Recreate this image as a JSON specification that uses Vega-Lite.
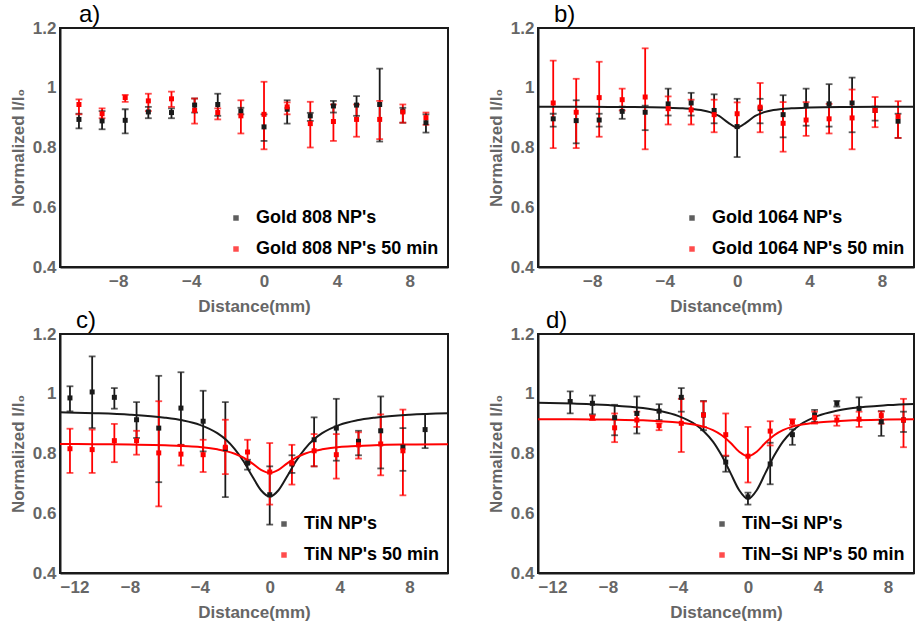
{
  "$schema": "https://vega.github.io/schema/vega-lite/v6.json",
  "padding": {"left": 8, "top": 2, "right": 0, "bottom": 0},
  "background": "white",
  "columns": 2,
  "bounds": "flush",
  "spacing": {"row": 67, "column": 90},
  "datasets": {
    "pts": [
      {"p":"a","s":"Gold 808 NP's","x":-10.16,"y":0.894,"lo":0.864,"hi":0.913},
      {"p":"a","s":"Gold 808 NP's","x":-8.89,"y":0.889,"lo":0.861,"hi":0.922},
      {"p":"a","s":"Gold 808 NP's","x":-7.62,"y":0.891,"lo":0.847,"hi":0.928},
      {"p":"a","s":"Gold 808 NP's","x":-6.35,"y":0.919,"lo":0.898,"hi":0.936},
      {"p":"a","s":"Gold 808 NP's","x":-5.08,"y":0.917,"lo":0.898,"hi":0.931},
      {"p":"a","s":"Gold 808 NP's","x":-3.81,"y":0.942,"lo":0.917,"hi":0.964},
      {"p":"a","s":"Gold 808 NP's","x":-2.54,"y":0.944,"lo":0.906,"hi":0.98},
      {"p":"a","s":"Gold 808 NP's","x":-1.27,"y":0.922,"lo":0.911,"hi":0.933},
      {"p":"a","s":"Gold 808 NP's","x":0,"y":0.869,"lo":0.822,"hi":0.911},
      {"p":"a","s":"Gold 808 NP's","x":1.27,"y":0.928,"lo":0.88,"hi":0.958},
      {"p":"a","s":"Gold 808 NP's","x":2.54,"y":0.906,"lo":0.889,"hi":0.916},
      {"p":"a","s":"Gold 808 NP's","x":3.81,"y":0.939,"lo":0.917,"hi":0.956},
      {"p":"a","s":"Gold 808 NP's","x":5.08,"y":0.942,"lo":0.906,"hi":0.972},
      {"p":"a","s":"Gold 808 NP's","x":6.35,"y":0.944,"lo":0.82,"hi":1.064},
      {"p":"a","s":"Gold 808 NP's","x":7.62,"y":0.922,"lo":0.883,"hi":0.933},
      {"p":"a","s":"Gold 808 NP's","x":8.89,"y":0.883,"lo":0.85,"hi":0.911},
      {"p":"a","s":"Gold 808 NP's 50 min","x":-10.16,"y":0.944,"lo":0.911,"hi":0.961},
      {"p":"a","s":"Gold 808 NP's 50 min","x":-8.89,"y":0.913,"lo":0.898,"hi":0.931},
      {"p":"a","s":"Gold 808 NP's 50 min","x":-7.62,"y":0.967,"lo":0.953,"hi":0.976},
      {"p":"a","s":"Gold 808 NP's 50 min","x":-6.35,"y":0.956,"lo":0.922,"hi":0.98},
      {"p":"a","s":"Gold 808 NP's 50 min","x":-5.08,"y":0.963,"lo":0.936,"hi":0.987},
      {"p":"a","s":"Gold 808 NP's 50 min","x":-3.81,"y":0.924,"lo":0.88,"hi":0.964},
      {"p":"a","s":"Gold 808 NP's 50 min","x":-2.54,"y":0.917,"lo":0.894,"hi":0.931},
      {"p":"a","s":"Gold 808 NP's 50 min","x":-1.27,"y":0.906,"lo":0.847,"hi":0.958},
      {"p":"a","s":"Gold 808 NP's 50 min","x":0,"y":0.911,"lo":0.794,"hi":1.02},
      {"p":"a","s":"Gold 808 NP's 50 min","x":1.27,"y":0.936,"lo":0.911,"hi":0.951},
      {"p":"a","s":"Gold 808 NP's 50 min","x":2.54,"y":0.88,"lo":0.8,"hi":0.953},
      {"p":"a","s":"Gold 808 NP's 50 min","x":3.81,"y":0.887,"lo":0.822,"hi":0.944},
      {"p":"a","s":"Gold 808 NP's 50 min","x":5.08,"y":0.894,"lo":0.836,"hi":0.944},
      {"p":"a","s":"Gold 808 NP's 50 min","x":6.35,"y":0.894,"lo":0.828,"hi":0.956},
      {"p":"a","s":"Gold 808 NP's 50 min","x":7.62,"y":0.919,"lo":0.883,"hi":0.944},
      {"p":"a","s":"Gold 808 NP's 50 min","x":8.89,"y":0.9,"lo":0.876,"hi":0.917},

      {"p":"b","s":"Gold 1064 NP's","x":-10.16,"y":0.896,"lo":0.87,"hi":0.913},
      {"p":"b","s":"Gold 1064 NP's","x":-8.89,"y":0.89,"lo":0.814,"hi":0.958},
      {"p":"b","s":"Gold 1064 NP's","x":-7.62,"y":0.892,"lo":0.87,"hi":0.913},
      {"p":"b","s":"Gold 1064 NP's","x":-6.35,"y":0.921,"lo":0.896,"hi":0.937},
      {"p":"b","s":"Gold 1064 NP's","x":-5.08,"y":0.918,"lo":0.858,"hi":0.94},
      {"p":"b","s":"Gold 1064 NP's","x":-3.81,"y":0.946,"lo":0.907,"hi":0.997},
      {"p":"b","s":"Gold 1064 NP's","x":-2.54,"y":0.949,"lo":0.907,"hi":0.983},
      {"p":"b","s":"Gold 1064 NP's","x":-1.27,"y":0.924,"lo":0.881,"hi":0.978},
      {"p":"b","s":"Gold 1064 NP's","x":0,"y":0.87,"lo":0.768,"hi":0.963},
      {"p":"b","s":"Gold 1064 NP's","x":1.27,"y":0.93,"lo":0.881,"hi":0.963},
      {"p":"b","s":"Gold 1064 NP's","x":2.54,"y":0.91,"lo":0.834,"hi":0.975},
      {"p":"b","s":"Gold 1064 NP's","x":3.81,"y":0.941,"lo":0.873,"hi":0.997},
      {"p":"b","s":"Gold 1064 NP's","x":5.08,"y":0.946,"lo":0.87,"hi":1.012},
      {"p":"b","s":"Gold 1064 NP's","x":6.35,"y":0.949,"lo":0.851,"hi":1.034},
      {"p":"b","s":"Gold 1064 NP's","x":7.62,"y":0.924,"lo":0.89,"hi":0.937},
      {"p":"b","s":"Gold 1064 NP's","x":8.89,"y":0.888,"lo":0.832,"hi":0.913},
      {"p":"b","s":"Gold 1064 NP's 50 min","x":-10.16,"y":0.949,"lo":0.798,"hi":1.091},
      {"p":"b","s":"Gold 1064 NP's 50 min","x":-8.89,"y":0.918,"lo":0.798,"hi":1.03},
      {"p":"b","s":"Gold 1064 NP's 50 min","x":-7.62,"y":0.967,"lo":0.836,"hi":1.087},
      {"p":"b","s":"Gold 1064 NP's 50 min","x":-6.35,"y":0.96,"lo":0.924,"hi":0.997},
      {"p":"b","s":"Gold 1064 NP's 50 min","x":-5.08,"y":0.969,"lo":0.794,"hi":1.132},
      {"p":"b","s":"Gold 1064 NP's 50 min","x":-3.81,"y":0.93,"lo":0.877,"hi":0.971},
      {"p":"b","s":"Gold 1064 NP's 50 min","x":-2.54,"y":0.926,"lo":0.877,"hi":0.96},
      {"p":"b","s":"Gold 1064 NP's 50 min","x":-1.27,"y":0.91,"lo":0.851,"hi":0.96},
      {"p":"b","s":"Gold 1064 NP's 50 min","x":0,"y":0.913,"lo":0.87,"hi":0.951},
      {"p":"b","s":"Gold 1064 NP's 50 min","x":1.27,"y":0.935,"lo":0.851,"hi":1.016},
      {"p":"b","s":"Gold 1064 NP's 50 min","x":2.54,"y":0.881,"lo":0.786,"hi":0.952},
      {"p":"b","s":"Gold 1064 NP's 50 min","x":3.81,"y":0.892,"lo":0.839,"hi":0.952},
      {"p":"b","s":"Gold 1064 NP's 50 min","x":5.08,"y":0.896,"lo":0.847,"hi":0.946},
      {"p":"b","s":"Gold 1064 NP's 50 min","x":6.35,"y":0.899,"lo":0.794,"hi":0.994},
      {"p":"b","s":"Gold 1064 NP's 50 min","x":7.62,"y":0.924,"lo":0.868,"hi":0.969},
      {"p":"b","s":"Gold 1064 NP's 50 min","x":8.89,"y":0.904,"lo":0.832,"hi":0.955},

      {"p":"c","s":"TiN NP's","x":-11.43,"y":0.986,"lo":0.941,"hi":1.025},
      {"p":"c","s":"TiN NP's","x":-10.16,"y":1.006,"lo":0.885,"hi":1.125},
      {"p":"c","s":"TiN NP's","x":-8.89,"y":0.988,"lo":0.95,"hi":1.019},
      {"p":"c","s":"TiN NP's","x":-7.62,"y":0.913,"lo":0.852,"hi":0.972},
      {"p":"c","s":"TiN NP's","x":-6.35,"y":0.885,"lo":0.704,"hi":1.06},
      {"p":"c","s":"TiN NP's","x":-5.08,"y":0.952,"lo":0.829,"hi":1.072},
      {"p":"c","s":"TiN NP's","x":-3.81,"y":0.908,"lo":0.807,"hi":1.01},
      {"p":"c","s":"TiN NP's","x":-2.54,"y":0.816,"lo":0.654,"hi":0.972},
      {"p":"c","s":"TiN NP's","x":-1.27,"y":0.768,"lo":0.746,"hi":0.779},
      {"p":"c","s":"TiN NP's","x":0,"y":0.662,"lo":0.562,"hi":0.757},
      {"p":"c","s":"TiN NP's","x":1.27,"y":0.765,"lo":0.735,"hi":0.794},
      {"p":"c","s":"TiN NP's","x":2.54,"y":0.846,"lo":0.757,"hi":0.921},
      {"p":"c","s":"TiN NP's","x":3.81,"y":0.885,"lo":0.776,"hi":0.983},
      {"p":"c","s":"TiN NP's","x":5.08,"y":0.841,"lo":0.794,"hi":0.876},
      {"p":"c","s":"TiN NP's","x":6.35,"y":0.876,"lo":0.75,"hi":0.991},
      {"p":"c","s":"TiN NP's","x":7.62,"y":0.821,"lo":0.742,"hi":0.885},
      {"p":"c","s":"TiN NP's","x":8.89,"y":0.88,"lo":0.818,"hi":0.932},
      {"p":"c","s":"TiN NP's 50 min","x":-11.43,"y":0.816,"lo":0.735,"hi":0.883},
      {"p":"c","s":"TiN NP's 50 min","x":-10.16,"y":0.813,"lo":0.735,"hi":0.88},
      {"p":"c","s":"TiN NP's 50 min","x":-8.89,"y":0.843,"lo":0.771,"hi":0.899},
      {"p":"c","s":"TiN NP's 50 min","x":-7.62,"y":0.843,"lo":0.796,"hi":0.876},
      {"p":"c","s":"TiN NP's 50 min","x":-6.35,"y":0.802,"lo":0.623,"hi":0.975},
      {"p":"c","s":"TiN NP's 50 min","x":-5.08,"y":0.798,"lo":0.76,"hi":0.829},
      {"p":"c","s":"TiN NP's 50 min","x":-3.81,"y":0.796,"lo":0.738,"hi":0.846},
      {"p":"c","s":"TiN NP's 50 min","x":-2.54,"y":0.821,"lo":0.731,"hi":0.913},
      {"p":"c","s":"TiN NP's 50 min","x":-1.27,"y":0.805,"lo":0.765,"hi":0.846},
      {"p":"c","s":"TiN NP's 50 min","x":0,"y":0.738,"lo":0.629,"hi":0.835},
      {"p":"c","s":"TiN NP's 50 min","x":1.27,"y":0.768,"lo":0.696,"hi":0.829},
      {"p":"c","s":"TiN NP's 50 min","x":2.54,"y":0.809,"lo":0.757,"hi":0.865},
      {"p":"c","s":"TiN NP's 50 min","x":3.81,"y":0.796,"lo":0.716,"hi":0.865},
      {"p":"c","s":"TiN NP's 50 min","x":5.08,"y":0.829,"lo":0.783,"hi":0.871},
      {"p":"c","s":"TiN NP's 50 min","x":6.35,"y":0.832,"lo":0.727,"hi":0.931},
      {"p":"c","s":"TiN NP's 50 min","x":7.62,"y":0.809,"lo":0.66,"hi":0.947},

      {"p":"d","s":"TiN−Si NP's","x":-10.16,"y":0.974,"lo":0.934,"hi":1.008},
      {"p":"d","s":"TiN−Si NP's","x":-8.89,"y":0.968,"lo":0.931,"hi":0.994},
      {"p":"d","s":"TiN−Si NP's","x":-7.62,"y":0.92,"lo":0.861,"hi":0.963},
      {"p":"d","s":"TiN−Si NP's","x":-6.35,"y":0.934,"lo":0.867,"hi":0.991},
      {"p":"d","s":"TiN−Si NP's","x":-5.08,"y":0.942,"lo":0.912,"hi":0.965},
      {"p":"d","s":"TiN−Si NP's","x":-3.81,"y":0.988,"lo":0.94,"hi":1.019},
      {"p":"d","s":"TiN−Si NP's","x":-2.54,"y":0.929,"lo":0.878,"hi":0.976},
      {"p":"d","s":"TiN−Si NP's","x":-1.27,"y":0.771,"lo":0.739,"hi":0.791},
      {"p":"d","s":"TiN−Si NP's","x":0,"y":0.655,"lo":0.629,"hi":0.669},
      {"p":"d","s":"TiN−Si NP's","x":1.27,"y":0.765,"lo":0.697,"hi":0.836},
      {"p":"d","s":"TiN−Si NP's","x":2.54,"y":0.863,"lo":0.829,"hi":0.881},
      {"p":"d","s":"TiN−Si NP's","x":3.81,"y":0.929,"lo":0.906,"hi":0.946},
      {"p":"d","s":"TiN−Si NP's","x":5.08,"y":0.968,"lo":0.957,"hi":0.976},
      {"p":"d","s":"TiN−Si NP's","x":6.35,"y":0.951,"lo":0.912,"hi":0.988},
      {"p":"d","s":"TiN−Si NP's","x":7.62,"y":0.906,"lo":0.859,"hi":0.942},
      {"p":"d","s":"TiN−Si NP's","x":8.89,"y":0.912,"lo":0.872,"hi":0.94},
      {"p":"d","s":"TiN−Si NP's 50 min","x":-8.89,"y":0.92,"lo":0.912,"hi":0.927},
      {"p":"d","s":"TiN−Si NP's 50 min","x":-7.62,"y":0.886,"lo":0.838,"hi":0.934},
      {"p":"d","s":"TiN−Si NP's 50 min","x":-6.35,"y":0.912,"lo":0.889,"hi":0.94},
      {"p":"d","s":"TiN−Si NP's 50 min","x":-5.08,"y":0.893,"lo":0.878,"hi":0.901},
      {"p":"d","s":"TiN−Si NP's 50 min","x":-3.81,"y":0.901,"lo":0.805,"hi":0.983},
      {"p":"d","s":"TiN−Si NP's 50 min","x":-2.54,"y":0.929,"lo":0.889,"hi":0.974},
      {"p":"d","s":"TiN−Si NP's 50 min","x":-1.27,"y":0.863,"lo":0.793,"hi":0.934},
      {"p":"d","s":"TiN−Si NP's 50 min","x":0,"y":0.791,"lo":0.703,"hi":0.889},
      {"p":"d","s":"TiN−Si NP's 50 min","x":1.27,"y":0.875,"lo":0.827,"hi":0.908},
      {"p":"d","s":"TiN−Si NP's 50 min","x":2.54,"y":0.906,"lo":0.895,"hi":0.915},
      {"p":"d","s":"TiN−Si NP's 50 min","x":3.81,"y":0.92,"lo":0.9,"hi":0.94},
      {"p":"d","s":"TiN−Si NP's 50 min","x":5.08,"y":0.912,"lo":0.893,"hi":0.927},
      {"p":"d","s":"TiN−Si NP's 50 min","x":6.35,"y":0.915,"lo":0.889,"hi":0.94},
      {"p":"d","s":"TiN−Si NP's 50 min","x":7.62,"y":0.927,"lo":0.9,"hi":0.94},
      {"p":"d","s":"TiN−Si NP's 50 min","x":8.89,"y":0.912,"lo":0.821,"hi":0.983}
    ],
    "fits": [
      {"p":"b","s":"Gold 1064 NP's","x":-11,"y":0.9365},
      {"p":"b","s":"Gold 1064 NP's","x":-8,"y":0.9361},
      {"p":"b","s":"Gold 1064 NP's","x":-6,"y":0.9355},
      {"p":"b","s":"Gold 1064 NP's","x":-4,"y":0.9336},
      {"p":"b","s":"Gold 1064 NP's","x":-3,"y":0.9312},
      {"p":"b","s":"Gold 1064 NP's","x":-2,"y":0.9252},
      {"p":"b","s":"Gold 1064 NP's","x":-1.5,"y":0.9185},
      {"p":"b","s":"Gold 1064 NP's","x":-1,"y":0.9057},
      {"p":"b","s":"Gold 1064 NP's","x":-0.5,"y":0.8835},
      {"p":"b","s":"Gold 1064 NP's","x":0,"y":0.867},
      {"p":"b","s":"Gold 1064 NP's","x":0.5,"y":0.8835},
      {"p":"b","s":"Gold 1064 NP's","x":1,"y":0.9057},
      {"p":"b","s":"Gold 1064 NP's","x":1.5,"y":0.9185},
      {"p":"b","s":"Gold 1064 NP's","x":2,"y":0.9252},
      {"p":"b","s":"Gold 1064 NP's","x":3,"y":0.9312},
      {"p":"b","s":"Gold 1064 NP's","x":4,"y":0.9336},
      {"p":"b","s":"Gold 1064 NP's","x":6,"y":0.9355},
      {"p":"b","s":"Gold 1064 NP's","x":8,"y":0.9361},
      {"p":"b","s":"Gold 1064 NP's","x":10,"y":0.9365},

      {"p":"c","s":"TiN NP's","x":-12,"y":0.938},
      {"p":"c","s":"TiN NP's","x":-10,"y":0.935},
      {"p":"c","s":"TiN NP's","x":-8,"y":0.930},
      {"p":"c","s":"TiN NP's","x":-6,"y":0.920},
      {"p":"c","s":"TiN NP's","x":-5,"y":0.911},
      {"p":"c","s":"TiN NP's","x":-4,"y":0.896},
      {"p":"c","s":"TiN NP's","x":-3,"y":0.868},
      {"p":"c","s":"TiN NP's","x":-2.5,"y":0.846},
      {"p":"c","s":"TiN NP's","x":-2,"y":0.815},
      {"p":"c","s":"TiN NP's","x":-1.5,"y":0.774},
      {"p":"c","s":"TiN NP's","x":-1,"y":0.724},
      {"p":"c","s":"TiN NP's","x":-0.5,"y":0.677},
      {"p":"c","s":"TiN NP's","x":0,"y":0.656},
      {"p":"c","s":"TiN NP's","x":0.5,"y":0.677},
      {"p":"c","s":"TiN NP's","x":1,"y":0.724},
      {"p":"c","s":"TiN NP's","x":1.5,"y":0.774},
      {"p":"c","s":"TiN NP's","x":2,"y":0.815},
      {"p":"c","s":"TiN NP's","x":2.5,"y":0.846},
      {"p":"c","s":"TiN NP's","x":3,"y":0.868},
      {"p":"c","s":"TiN NP's","x":4,"y":0.896},
      {"p":"c","s":"TiN NP's","x":5,"y":0.911},
      {"p":"c","s":"TiN NP's","x":6,"y":0.920},
      {"p":"c","s":"TiN NP's","x":8,"y":0.930},
      {"p":"c","s":"TiN NP's","x":10.2,"y":0.935},
      {"p":"c","s":"TiN NP's 50 min","x":-12,"y":0.832},
      {"p":"c","s":"TiN NP's 50 min","x":-10,"y":0.831},
      {"p":"c","s":"TiN NP's 50 min","x":-8,"y":0.830},
      {"p":"c","s":"TiN NP's 50 min","x":-6,"y":0.828},
      {"p":"c","s":"TiN NP's 50 min","x":-5,"y":0.825},
      {"p":"c","s":"TiN NP's 50 min","x":-4,"y":0.822},
      {"p":"c","s":"TiN NP's 50 min","x":-3,"y":0.814},
      {"p":"c","s":"TiN NP's 50 min","x":-2.5,"y":0.808},
      {"p":"c","s":"TiN NP's 50 min","x":-2,"y":0.799},
      {"p":"c","s":"TiN NP's 50 min","x":-1.5,"y":0.786},
      {"p":"c","s":"TiN NP's 50 min","x":-1,"y":0.767},
      {"p":"c","s":"TiN NP's 50 min","x":-0.5,"y":0.745},
      {"p":"c","s":"TiN NP's 50 min","x":0,"y":0.735},
      {"p":"c","s":"TiN NP's 50 min","x":0.5,"y":0.745},
      {"p":"c","s":"TiN NP's 50 min","x":1,"y":0.767},
      {"p":"c","s":"TiN NP's 50 min","x":1.5,"y":0.786},
      {"p":"c","s":"TiN NP's 50 min","x":2,"y":0.799},
      {"p":"c","s":"TiN NP's 50 min","x":2.5,"y":0.808},
      {"p":"c","s":"TiN NP's 50 min","x":3,"y":0.814},
      {"p":"c","s":"TiN NP's 50 min","x":4,"y":0.822},
      {"p":"c","s":"TiN NP's 50 min","x":5,"y":0.825},
      {"p":"c","s":"TiN NP's 50 min","x":6,"y":0.828},
      {"p":"c","s":"TiN NP's 50 min","x":8,"y":0.830},
      {"p":"c","s":"TiN NP's 50 min","x":10.2,"y":0.831},

      {"p":"d","s":"TiN−Si NP's","x":-12,"y":0.970},
      {"p":"d","s":"TiN−Si NP's","x":-10,"y":0.967},
      {"p":"d","s":"TiN−Si NP's","x":-8,"y":0.962},
      {"p":"d","s":"TiN−Si NP's","x":-6,"y":0.952},
      {"p":"d","s":"TiN−Si NP's","x":-5,"y":0.942},
      {"p":"d","s":"TiN−Si NP's","x":-4,"y":0.926},
      {"p":"d","s":"TiN−Si NP's","x":-3,"y":0.897},
      {"p":"d","s":"TiN−Si NP's","x":-2.5,"y":0.873},
      {"p":"d","s":"TiN−Si NP's","x":-2,"y":0.840},
      {"p":"d","s":"TiN−Si NP's","x":-1.5,"y":0.793},
      {"p":"d","s":"TiN−Si NP's","x":-1,"y":0.735},
      {"p":"d","s":"TiN−Si NP's","x":-0.5,"y":0.677},
      {"p":"d","s":"TiN−Si NP's","x":0,"y":0.648},
      {"p":"d","s":"TiN−Si NP's","x":0.5,"y":0.677},
      {"p":"d","s":"TiN−Si NP's","x":1,"y":0.735},
      {"p":"d","s":"TiN−Si NP's","x":1.5,"y":0.793},
      {"p":"d","s":"TiN−Si NP's","x":2,"y":0.840},
      {"p":"d","s":"TiN−Si NP's","x":2.5,"y":0.873},
      {"p":"d","s":"TiN−Si NP's","x":3,"y":0.897},
      {"p":"d","s":"TiN−Si NP's","x":4,"y":0.926},
      {"p":"d","s":"TiN−Si NP's","x":5,"y":0.942},
      {"p":"d","s":"TiN−Si NP's","x":6,"y":0.952},
      {"p":"d","s":"TiN−Si NP's","x":8,"y":0.962},
      {"p":"d","s":"TiN−Si NP's","x":10,"y":0.967},
      {"p":"d","s":"TiN−Si NP's 50 min","x":-12,"y":0.915},
      {"p":"d","s":"TiN−Si NP's 50 min","x":-10,"y":0.915},
      {"p":"d","s":"TiN−Si NP's 50 min","x":-8,"y":0.9135},
      {"p":"d","s":"TiN−Si NP's 50 min","x":-6,"y":0.911},
      {"p":"d","s":"TiN−Si NP's 50 min","x":-5,"y":0.908},
      {"p":"d","s":"TiN−Si NP's 50 min","x":-4,"y":0.904},
      {"p":"d","s":"TiN−Si NP's 50 min","x":-3,"y":0.896},
      {"p":"d","s":"TiN−Si NP's 50 min","x":-2.5,"y":0.889},
      {"p":"d","s":"TiN−Si NP's 50 min","x":-2,"y":0.878},
      {"p":"d","s":"TiN−Si NP's 50 min","x":-1.5,"y":0.861},
      {"p":"d","s":"TiN−Si NP's 50 min","x":-1,"y":0.836},
      {"p":"d","s":"TiN−Si NP's 50 min","x":-0.5,"y":0.806},
      {"p":"d","s":"TiN−Si NP's 50 min","x":0,"y":0.791},
      {"p":"d","s":"TiN−Si NP's 50 min","x":0.5,"y":0.806},
      {"p":"d","s":"TiN−Si NP's 50 min","x":1,"y":0.836},
      {"p":"d","s":"TiN−Si NP's 50 min","x":1.5,"y":0.861},
      {"p":"d","s":"TiN−Si NP's 50 min","x":2,"y":0.878},
      {"p":"d","s":"TiN−Si NP's 50 min","x":2.5,"y":0.889},
      {"p":"d","s":"TiN−Si NP's 50 min","x":3,"y":0.896},
      {"p":"d","s":"TiN−Si NP's 50 min","x":4,"y":0.904},
      {"p":"d","s":"TiN−Si NP's 50 min","x":5,"y":0.908},
      {"p":"d","s":"TiN−Si NP's 50 min","x":6,"y":0.911},
      {"p":"d","s":"TiN−Si NP's 50 min","x":8,"y":0.9135},
      {"p":"d","s":"TiN−Si NP's 50 min","x":10,"y":0.915}
    ]
  },
  "concat": [
    {
      "width": 388, "height": 239,
      "title": {"text": "a)", "dx": 19},
      "layer": [
        {
          "data": {"name": "pts"},
          "transform": [{"filter": "datum.p == 'a'"}],
          "mark": {"type": "rule", "strokeWidth": 1.8},
          "encoding": {
            "x": {"field": "x", "type": "quantitative", "scale": {"domain": [-11.2, 10.1], "nice": false, "zero": false}, "axis": {"values": [-8, -4, 0, 4, 8], "title": "Distance(mm)"}},
            "y": {"field": "lo", "type": "quantitative", "scale": {"domain": [0.4, 1.2], "nice": false, "zero": false}, "axis": {"values": [0.4, 0.6, 0.8, 1, 1.2], "title": "Normalized  I/I₀", "labelExpr": "datum.value == 1 ? '1' : format(datum.value, '.1f')"}},
            "y2": {"field": "hi"},
            "color": {"field": "s", "scale": {"domain": ["Gold 808 NP's", "Gold 808 NP's 50 min"], "range": ["#1a1a1a", "#ff0000"]}, "legend": {"title": null, "orient": "bottom-right", "offset": 9, "symbolType": "square", "symbolSize": 30, "symbolStrokeWidth": 0, "labelFontSize": 18, "labelFontWeight": "bold", "labelColor": "#000", "labelLimit": 320, "labelOffset": 11, "rowPadding": 13}}
          }
        },
        {
          "data": {"name": "pts"},
          "transform": [{"filter": "datum.p == 'a'"}, {"fold": ["lo", "hi"], "as": ["end", "v"]}],
          "mark": {"type": "tick", "orient": "horizontal", "size": 5, "thickness": 0.01, "filled": false, "strokeWidth": 1.8},
          "encoding": {
            "x": {"field": "x", "type": "quantitative"},
            "y": {"field": "v", "type": "quantitative"},
            "color": {"field": "s"}
          }
        },
        {
          "data": {"name": "pts"},
          "transform": [{"filter": "datum.p == 'a'"}],
          "mark": {"type": "square", "size": 25, "opacity": 1},
          "encoding": {
            "x": {"field": "x", "type": "quantitative"},
            "y": {"field": "y", "type": "quantitative"},
            "color": {"field": "s"}
          }
        }
      ]
    },
    {
      "width": 376, "height": 239,
      "title": {"text": "b)", "dx": 16},
      "layer": [
        {
          "data": {"name": "pts"},
          "transform": [{"filter": "datum.p == 'b'"}],
          "mark": {"type": "rule", "strokeWidth": 1.8},
          "encoding": {
            "x": {"field": "x", "type": "quantitative", "scale": {"domain": [-11.0, 9.77], "nice": false, "zero": false}, "axis": {"values": [-8, -4, 0, 4, 8], "title": "Distance(mm)"}},
            "y": {"field": "lo", "type": "quantitative", "scale": {"domain": [0.4, 1.2], "nice": false, "zero": false}, "axis": {"values": [0.4, 0.6, 0.8, 1, 1.2], "title": "Normalized  I/I₀", "labelExpr": "datum.value == 1 ? '1' : format(datum.value, '.1f')"}},
            "y2": {"field": "hi"},
            "color": {"field": "s", "scale": {"domain": ["Gold 1064 NP's", "Gold 1064 NP's 50 min"], "range": ["#1a1a1a", "#ff0000"]}, "legend": {"title": null, "orient": "bottom-right", "offset": 9, "symbolType": "square", "symbolSize": 30, "symbolStrokeWidth": 0, "labelFontSize": 18, "labelFontWeight": "bold", "labelColor": "#000", "labelLimit": 320, "labelOffset": 11, "rowPadding": 13}}
          }
        },
        {
          "data": {"name": "pts"},
          "transform": [{"filter": "datum.p == 'b'"}, {"fold": ["lo", "hi"], "as": ["end", "v"]}],
          "mark": {"type": "tick", "orient": "horizontal", "size": 5, "thickness": 0.01, "filled": false, "strokeWidth": 1.8},
          "encoding": {
            "x": {"field": "x", "type": "quantitative"},
            "y": {"field": "v", "type": "quantitative"},
            "color": {"field": "s"}
          }
        },
        {
          "data": {"name": "fits"},
          "transform": [{"filter": "datum.p == 'b'"}],
          "mark": {"type": "line", "interpolate": "monotone", "strokeWidth": 2, "clip": true},
          "encoding": {
            "x": {"field": "x", "type": "quantitative"},
            "y": {"field": "y", "type": "quantitative"},
            "color": {"field": "s"}
          }
        },
        {
          "data": {"name": "pts"},
          "transform": [{"filter": "datum.p == 'b'"}],
          "mark": {"type": "square", "size": 25, "opacity": 1},
          "encoding": {
            "x": {"field": "x", "type": "quantitative"},
            "y": {"field": "y", "type": "quantitative"},
            "color": {"field": "s"}
          }
        }
      ]
    },
    {
      "width": 388, "height": 239,
      "title": {"text": "c)", "dx": 16},
      "layer": [
        {
          "data": {"name": "pts"},
          "transform": [{"filter": "datum.p == 'c'"}],
          "mark": {"type": "rule", "strokeWidth": 1.8},
          "encoding": {
            "x": {"field": "x", "type": "quantitative", "scale": {"domain": [-12, 10.2], "nice": false, "zero": false}, "axis": {"values": [-12, -8, -4, 0, 4, 8], "title": "Distance(mm)"}},
            "y": {"field": "lo", "type": "quantitative", "scale": {"domain": [0.4, 1.2], "nice": false, "zero": false}, "axis": {"values": [0.4, 0.6, 0.8, 1, 1.2], "title": "Normalized  I/I₀", "labelExpr": "datum.value == 1 ? '1' : format(datum.value, '.1f')"}},
            "y2": {"field": "hi"},
            "color": {"field": "s", "scale": {"domain": ["TiN NP's", "TiN NP's 50 min"], "range": ["#1a1a1a", "#ff0000"]}, "legend": {"title": null, "orient": "bottom-right", "offset": 9, "symbolType": "square", "symbolSize": 30, "symbolStrokeWidth": 0, "labelFontSize": 18, "labelFontWeight": "bold", "labelColor": "#000", "labelLimit": 320, "labelOffset": 11, "rowPadding": 13}}
          }
        },
        {
          "data": {"name": "pts"},
          "transform": [{"filter": "datum.p == 'c'"}, {"fold": ["lo", "hi"], "as": ["end", "v"]}],
          "mark": {"type": "tick", "orient": "horizontal", "size": 5, "thickness": 0.01, "filled": false, "strokeWidth": 1.8},
          "encoding": {
            "x": {"field": "x", "type": "quantitative"},
            "y": {"field": "v", "type": "quantitative"},
            "color": {"field": "s"}
          }
        },
        {
          "data": {"name": "fits"},
          "transform": [{"filter": "datum.p == 'c'"}],
          "mark": {"type": "line", "interpolate": "monotone", "strokeWidth": 2, "clip": true},
          "encoding": {
            "x": {"field": "x", "type": "quantitative"},
            "y": {"field": "y", "type": "quantitative"},
            "color": {"field": "s"}
          }
        },
        {
          "data": {"name": "pts"},
          "transform": [{"filter": "datum.p == 'c'"}],
          "mark": {"type": "square", "size": 25, "opacity": 1},
          "encoding": {
            "x": {"field": "x", "type": "quantitative"},
            "y": {"field": "y", "type": "quantitative"},
            "color": {"field": "s"}
          }
        }
      ]
    },
    {
      "width": 376, "height": 239,
      "title": {"text": "d)", "dx": 8},
      "layer": [
        {
          "data": {"name": "pts"},
          "transform": [{"filter": "datum.p == 'd'"}],
          "mark": {"type": "rule", "strokeWidth": 1.8},
          "encoding": {
            "x": {"field": "x", "type": "quantitative", "scale": {"domain": [-12, 9.49], "nice": false, "zero": false}, "axis": {"values": [-12, -8, -4, 0, 4, 8], "title": "Distance(mm)"}},
            "y": {"field": "lo", "type": "quantitative", "scale": {"domain": [0.4, 1.2], "nice": false, "zero": false}, "axis": {"values": [0.4, 0.6, 0.8, 1, 1.2], "title": "Normalized  I/I₀", "labelExpr": "datum.value == 1 ? '1' : format(datum.value, '.1f')"}},
            "y2": {"field": "hi"},
            "color": {"field": "s", "scale": {"domain": ["TiN−Si NP's", "TiN−Si NP's 50 min"], "range": ["#1a1a1a", "#ff0000"]}, "legend": {"title": null, "orient": "bottom-right", "offset": 9, "symbolType": "square", "symbolSize": 30, "symbolStrokeWidth": 0, "labelFontSize": 18, "labelFontWeight": "bold", "labelColor": "#000", "labelLimit": 320, "labelOffset": 11, "rowPadding": 13}}
          }
        },
        {
          "data": {"name": "pts"},
          "transform": [{"filter": "datum.p == 'd'"}, {"fold": ["lo", "hi"], "as": ["end", "v"]}],
          "mark": {"type": "tick", "orient": "horizontal", "size": 5, "thickness": 0.01, "filled": false, "strokeWidth": 1.8},
          "encoding": {
            "x": {"field": "x", "type": "quantitative"},
            "y": {"field": "v", "type": "quantitative"},
            "color": {"field": "s"}
          }
        },
        {
          "data": {"name": "fits"},
          "transform": [{"filter": "datum.p == 'd'"}],
          "mark": {"type": "line", "interpolate": "monotone", "strokeWidth": 2, "clip": true},
          "encoding": {
            "x": {"field": "x", "type": "quantitative"},
            "y": {"field": "y", "type": "quantitative"},
            "color": {"field": "s"}
          }
        },
        {
          "data": {"name": "pts"},
          "transform": [{"filter": "datum.p == 'd'"}],
          "mark": {"type": "square", "size": 25, "opacity": 1},
          "encoding": {
            "x": {"field": "x", "type": "quantitative"},
            "y": {"field": "y", "type": "quantitative"},
            "color": {"field": "s"}
          }
        }
      ]
    }
  ],
  "resolve": {
    "scale": {"x": "independent", "y": "independent", "color": "independent"},
    "legend": {"color": "independent"}
  },
  "config": {
    "font": "Liberation Sans",
    "view": {"stroke": "#1a1a1a", "strokeWidth": 2},
    "title": {"anchor": "start", "frame": "group", "fontSize": 24, "fontWeight": "normal", "color": "#000", "font": "Liberation Sans", "offset": -8},
    "axis": {
      "grid": false, "ticks": false, "tickSize": 0, "domainColor": "#1a1a1a", "domainWidth": 2,
      "labelFont": "Liberation Sans", "labelFontSize": 17, "labelFontWeight": "bold", "labelColor": "#666", "labelPadding": 4,
      "titleFont": "Liberation Sans", "titleFontSize": 17, "titleFontWeight": "bold", "titleColor": "#666", "titlePadding": 5
    },
    "axisX": {"labelPadding": 6, "titlePadding": 9},
    "legend": {"labelFont": "Liberation Sans"}
  }
}
